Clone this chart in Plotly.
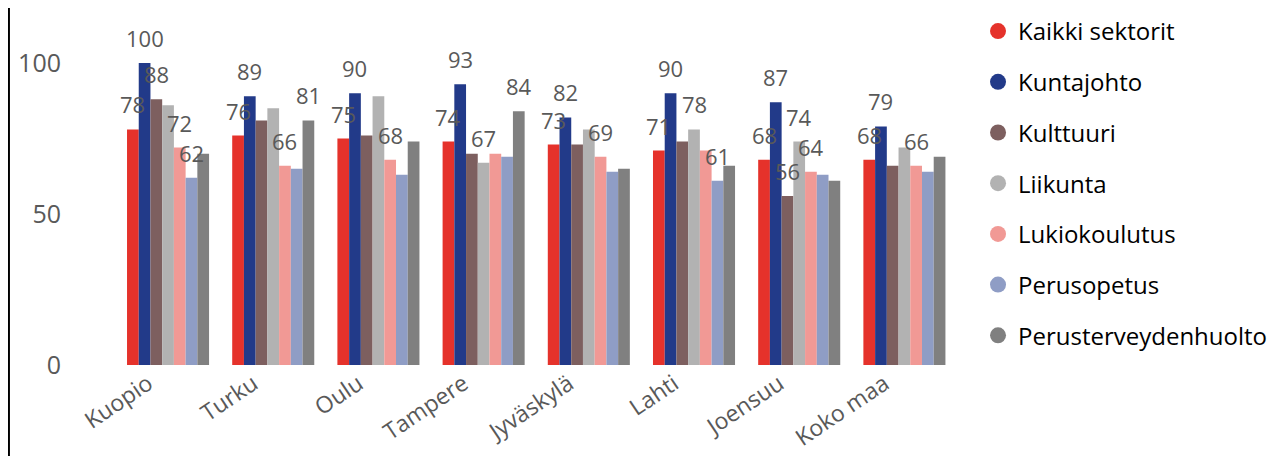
import plotly.graph_objects as go

categories = ["Kuopio", "Turku", "Oulu", "Tampere", "Jyväskylä", "Lahti", "Joensuu", "Koko maa"]

kaikki_sektorit = [78, 76, 75, 74, 73, 71, 68, 68]
kuntajohto = [100, 89, 90, 93, 82, 90, 87, 79]
kulttuuri = [88, 81, 76, 70, 73, 74, 56, 66]
liikunta = [86, 85, 89, 67, 78, 78, 74, 72]
lukiokoulutus = [72, 66, 68, 70, 69, 71, 64, 66]
perusopetus = [62, 65, 63, 69, 64, 61, 63, 64]
perusterveydenhuolto = [70, 81, 74, 84, 65, 66, 61, 69]

series_names = ["Kaikki sektorit", "Kuntajohto", "Kulttuuri", "Liikunta",
                "Lukiokoulutus", "Perusopetus", "Perusterveydenhuolto"]
series_values = [kaikki_sektorit, kuntajohto, kulttuuri, liikunta,
                 lukiokoulutus, perusopetus, perusterveydenhuolto]
series_colors = ["#E5322B", "#223A89", "#7D5F5F", "#B2B2B2",
                 "#F19995", "#8F9DC5", "#808080"]

# categories whose data label is visible, per series
labelled = {
    "Kaikki sektorit": categories,
    "Kuntajohto": categories,
    "Kulttuuri": ["Kuopio", "Joensuu"],
    "Liikunta": ["Tampere", "Lahti", "Joensuu"],
    "Lukiokoulutus": ["Kuopio", "Turku", "Oulu", "Jyväskylä", "Joensuu", "Koko maa"],
    "Perusopetus": ["Kuopio", "Lahti"],
    "Perusterveydenhuolto": ["Turku", "Tampere"],
}

FONT = "Open Sans"
BARGAP = 0.22
n_series = len(series_names)
slot = (1 - BARGAP) / n_series

fig = go.Figure()
annotations = []
for j, (name, vals, col) in enumerate(zip(series_names, series_values, series_colors)):
    fig.add_trace(go.Bar(
        x=categories, y=vals, name=name, marker_color=col,
        marker_line_width=0, showlegend=False, legendgroup=name,
    ))
    # legend entry with circular marker
    fig.add_trace(go.Scatter(
        x=[None], y=[None], mode="markers", name=name, legendgroup=name,
        marker=dict(symbol="circle", size=20, color=col),
    ))
    for i, (cat, v) in enumerate(zip(categories, vals)):
        if cat in labelled[name]:
            annotations.append(dict(
                x=i + (j - (n_series - 1) / 2) * slot, y=v, xref="x", yref="y",
                text=str(v), showarrow=False, yanchor="bottom", yshift=8,
                font=dict(family=FONT, size=22, color="#595959"),
            ))

fig.update_layout(
    width=1270, height=448,
    margin=dict(l=62, r=321, t=1, b=91),
    barmode="group", bargap=BARGAP, bargroupgap=0,
    plot_bgcolor="white", paper_bgcolor="white",
    font=dict(family=FONT, size=25, color="#595959"),
    annotations=annotations,
    showlegend=True,
    legend=dict(
        x=1.0237, xanchor="left", y=1, yanchor="top",
        font=dict(family=FONT, size=24, color="#000000"),
        tracegroupgap=16.5, itemsizing="trace",
        bgcolor="rgba(0,0,0,0)",
    ),
    shapes=[dict(type="line", xref="paper", yref="paper",
                 x0=-0.0694, x1=-0.0694, y0=-0.26, y1=1.01,
                 line=dict(color="black", width=3))],
)
fig.update_xaxes(
    range=[-0.932, 7.5], tickangle=-34, showline=False, showgrid=False,
    ticks="", ticklabelshift=-20, ticklabelstandoff=0, automargin=False,
    tickfont=dict(family=FONT, size=23, color="#595959"),
)
fig.update_yaxes(
    range=[0, 117.9], tickvals=[0, 50, 100], showline=False, showgrid=False,
    zeroline=False, ticks="", ticklabelstandoff=8, automargin=False,
    tickfont=dict(family=FONT, size=25, color="#595959"),
)

fig.write_html("out.html")
